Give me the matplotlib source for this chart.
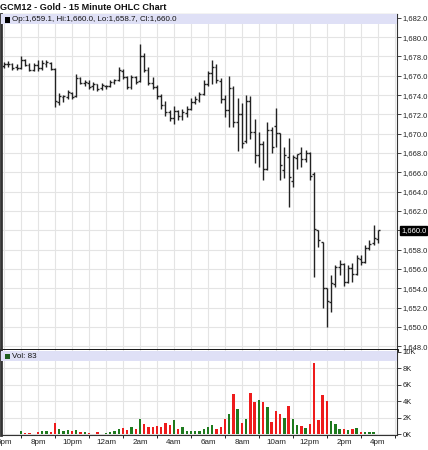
import matplotlib
matplotlib.use('Agg')
import matplotlib.pyplot as plt
import matplotlib.transforms as mtransforms
from matplotlib.patches import Rectangle
from matplotlib.ticker import FuncFormatter
import numpy as np

plt.rcParams['font.family'] = ['Liberation Sans', 'DejaVu Sans']

# 15 minute bars, 6pm .. 4pm
opens = [1677.0, 1677.2, 1677.2, 1676.9, 1676.8, 1677.6, 1677.1, 1676.6, 1677.1, 1676.8,
         1677.2, 1677.3, 1676.7, 1673.3, 1673.8, 1673.8, 1674.2, 1673.9, 1675.8, 1675.3,
         1675.3, 1674.9, 1675.1, 1674.7, 1674.9, 1674.9, 1675.4, 1675.6, 1676.5, 1675.9,
         1674.8, 1675.9, 1675.5, 1678.0, 1676.6, 1675.3, 1674.8, 1673.9, 1673.0, 1672.2,
         1671.6, 1672.4, 1671.8, 1672.1, 1672.6, 1673.3, 1673.5, 1674.1, 1675.2, 1676.3,
         1676.9, 1675.5, 1673.6, 1672.5, 1674.7, 1671.2, 1672.0, 1669.2, 1673.4, 1670.2,
         1667.8, 1668.9, 1666.3, 1670.4, 1670.8, 1670.1, 1666.2, 1667.6, 1665.1, 1667.5,
         1668.0, 1667.4, 1668.0, 1665.8, 1660.0, 1658.8, 1654.0, 1652.6, 1654.4, 1656.2,
         1656.5, 1654.6, 1656.1, 1655.5, 1657.0, 1656.7, 1658.2, 1658.7, 1659.1]
highs = [1677.4, 1677.5, 1677.3, 1677.2, 1678.1, 1677.7, 1677.3, 1677.3, 1677.6, 1677.6,
         1677.6, 1677.4, 1676.8, 1674.2, 1674.0, 1674.5, 1674.3, 1676.2, 1675.9, 1675.6,
         1675.6, 1675.4, 1675.2, 1675.3, 1675.0, 1675.6, 1675.7, 1676.9, 1676.7, 1676.0,
         1676.1, 1676.0, 1679.3, 1678.4, 1676.9, 1675.9, 1675.0, 1674.1, 1673.4, 1672.5,
         1672.9, 1672.5, 1672.6, 1672.9, 1673.7, 1673.9, 1674.3, 1675.6, 1676.5, 1677.6,
         1677.2, 1675.8, 1674.0, 1676.0, 1674.9, 1673.7, 1673.2, 1674.0, 1673.9, 1671.5,
         1670.2, 1669.2, 1671.2, 1670.7, 1672.7, 1670.1, 1668.6, 1669.6, 1667.8, 1667.9,
         1668.6, 1668.3, 1668.1, 1666.0, 1660.0, 1658.8, 1654.0, 1655.4, 1656.4, 1656.9,
         1656.6, 1656.4, 1656.6, 1657.4, 1657.4, 1658.5, 1659.0, 1660.5, 1660.0]
lows = [1676.8, 1676.9, 1676.6, 1676.6, 1676.7, 1677.0, 1676.5, 1676.5, 1676.5, 1676.6,
        1676.9, 1676.6, 1672.8, 1673.0, 1673.3, 1673.6, 1673.6, 1673.8, 1675.1, 1674.9,
        1674.6, 1674.5, 1674.4, 1674.5, 1674.6, 1674.8, 1675.1, 1675.5, 1675.7, 1674.6,
        1674.6, 1675.1, 1675.4, 1676.4, 1675.0, 1674.6, 1673.6, 1672.6, 1671.8, 1671.3,
        1671.0, 1671.4, 1671.4, 1671.7, 1672.5, 1673.1, 1673.3, 1674.0, 1674.9, 1675.1,
        1675.3, 1673.2, 1671.7, 1670.7, 1670.7, 1668.2, 1668.5, 1669.0, 1669.5, 1667.0,
        1666.6, 1665.2, 1666.2, 1668.0, 1668.6, 1665.2, 1665.4, 1662.4, 1664.5, 1666.3,
        1666.6, 1667.1, 1665.2, 1655.2, 1658.3, 1652.0, 1650.0, 1651.5, 1654.1, 1655.4,
        1654.2, 1654.5, 1654.6, 1655.4, 1656.4, 1656.6, 1658.0, 1658.5, 1658.7]
closes = [1677.2, 1677.2, 1676.8, 1676.8, 1677.6, 1677.1, 1676.6, 1677.1, 1676.8, 1677.3,
          1677.4, 1676.7, 1673.4, 1673.9, 1673.9, 1674.3, 1673.8, 1675.8, 1675.3, 1675.4,
          1674.8, 1675.1, 1674.6, 1675.0, 1674.9, 1675.4, 1675.6, 1676.6, 1675.9, 1674.8,
          1675.9, 1675.4, 1678.0, 1676.6, 1675.3, 1674.8, 1673.9, 1673.0, 1672.2, 1671.6,
          1672.4, 1671.8, 1672.2, 1672.6, 1673.3, 1673.6, 1674.1, 1675.2, 1676.3, 1676.9,
          1675.6, 1673.6, 1672.5, 1674.7, 1671.2, 1672.0, 1669.0, 1673.4, 1670.2, 1667.8,
          1668.9, 1666.3, 1670.4, 1668.6, 1670.1, 1666.8, 1667.8, 1665.5, 1667.6, 1667.9,
          1667.4, 1668.0, 1665.6, 1660.1, 1659.0, 1654.0, 1652.7, 1654.5, 1656.2, 1656.5,
          1654.6, 1656.1, 1655.5, 1657.1, 1656.7, 1658.2, 1658.6, 1659.2, 1660.0]
# volume in thousands
volume = [0.10, 0.06, 0.10, 0.10, 0.45, 0.15, 0.15, 0.10, 0.25, 0.35,
          0.40, 0.30, 1.40, 0.60, 0.45, 0.55, 0.40, 0.55, 0.30, 0.25,
          0.20, 0.10, 0.25, 0.10, 0.15, 0.30, 0.40, 0.70, 0.75, 0.55,
          0.90, 0.60, 1.80, 1.20, 0.85, 0.90, 1.00, 0.90, 1.40, 1.15,
          1.70, 0.70, 0.85, 0.45, 0.45, 0.45, 0.40, 0.70, 0.85, 1.10,
          0.70, 0.90, 1.80, 2.40, 4.90, 3.10, 1.40, 1.80, 5.00, 3.90,
          4.20, 3.90, 3.30, 1.50, 2.80, 2.50, 2.00, 3.40, 1.80, 1.10,
          1.00, 0.80, 1.20, 8.60, 1.70, 4.80, 4.00, 1.60, 1.20, 0.60,
          0.70, 0.50, 0.70, 0.80, 0.30, 0.25, 0.30, 0.30, 0.083]
time_labels = ['6pm', '8pm', '10pm', '12am', '2am', '4am', '6am', '8am', '10am', '12pm', '2pm', '4pm']

W, H = 428, 450
fig = plt.figure(figsize=(W / 100, H / 100), dpi=100)

def px_axes(x0, y0, x1, y1):
    return fig.add_axes([x0 / W, 1 - y1 / H, (x1 - x0) / W, (y1 - y0) / H])

ax = px_axes(1, 14, 397, 350)
axv = px_axes(1, 350, 397, 435)

n = len(closes)
idx = np.arange(n)
o, h, l, c = map(np.array, (opens, highs, lows, closes))

bar_col = '#222222'
ax.vlines(idx, l, h, color=bar_col, lw=1.0)
ax.hlines(o, idx - 0.45, idx, color=bar_col, lw=1.0)
ax.hlines(c, idx, idx + 0.45, color=bar_col, lw=1.0)

up = c >= o
vcols = np.where(up, '#1e7a1e', '#ee1c1c')
axv.bar(idx, volume, width=0.55, color=vcols, linewidth=0)

xlo, xhi = -0.7, 92.5
grid_col = '#e4e4e4'
for a in (ax, axv):
    a.set_xlim(xlo, xhi)
    a.set_xticks(np.arange(0, 93, 4), minor=False)
    a.grid(True, color=grid_col, lw=0.8)
    a.set_axisbelow(True)
    a.yaxis.tick_right()
    a.tick_params(axis='y', direction='out', length=3, width=0.6, pad=1,
                  labelsize=5.4, colors='#222222')
    for s in ('left', 'bottom', 'right', 'top'):
        a.spines[s].set_color('#333333')
        a.spines[s].set_linewidth(0.8)
    a.spines['left'].set_linewidth(2.0)

ax.set_ylim(1647.6, 1682.4)
ax.set_yticks(np.arange(1648, 1683, 2))
ax.yaxis.set_major_formatter(FuncFormatter(lambda v, p: f'{v:,.1f}'))
ax.tick_params(axis='x', length=0, labelbottom=False)
ax.spines['bottom'].set_linewidth(2.0)
ax.spines['bottom'].set_color('black')

axv.set_ylim(-0.08, 10.2)
axv.set_yticks(np.arange(0, 11, 2))
axv.yaxis.set_major_formatter(FuncFormatter(lambda v, p: f'{v:.0f}K'))
axv.spines['top'].set_visible(False)
axv.set_xticks(np.arange(0, 89, 8))
axv.set_xticks(np.arange(0, 93, 4), minor=True)
axv.grid(True, which='minor', axis='x', color=grid_col, lw=0.8)
axv.set_xticklabels(time_labels)
axv.tick_params(axis='x', length=0, pad=3, labelsize=5.8, colors='#222222')

# legend strips
strip = '#dfe0f6'
ax.add_patch(Rectangle((0, 1 - 10 / 336), 1, 10 / 336, transform=ax.transAxes,
                       facecolor=strip, edgecolor='none', zorder=3))
ax.add_patch(Rectangle((4 / 396, 1 - 8.5 / 336), 4.5 / 396, 5.5 / 336, transform=ax.transAxes,
                       facecolor='black', edgecolor='none', zorder=4))
ax.text(11 / 396, 1 - 5.2 / 336,
        f'Op:{opens[-1]:,.1f}, Hi:{highs[-1]:,.1f}, Lo:{lows[-1]:,.1f}, Cl:{closes[-1]:,.1f}',
        transform=ax.transAxes, fontsize=5.8, va='center', ha='left', color='#111111', zorder=5)

axv.add_patch(Rectangle((0, 1 - 11 / 85), 1, 10 / 85, transform=axv.transAxes,
                        facecolor=strip, edgecolor='none', zorder=3))
axv.add_patch(Rectangle((4 / 396, 1 - 9 / 85), 4.5 / 396, 5.5 / 85, transform=axv.transAxes,
                        facecolor='#1e5e1e', edgecolor='none', zorder=4))
axv.text(11 / 396, 1 - 6 / 85, f'Vol: {int(round(volume[-1] * 1000))}',
         transform=axv.transAxes, fontsize=5.8, va='center', ha='left', color='#111111', zorder=5)

# last price marker
trans = mtransforms.blended_transform_factory(ax.transAxes, ax.transData)
ax.text(1.01, closes[-1], f'{closes[-1]:,.1f}', transform=trans, fontsize=5.4, color='white',
        va='center', ha='left', zorder=6,
        bbox=dict(boxstyle='square,pad=0.15', facecolor='black', edgecolor='black'))

fig.text(0.0, 1 - 7 / H, 'GCM12 - Gold - 15 Minute OHLC Chart', fontsize=6.6,
         fontweight='bold', va='center', ha='left', color='#111111')

fig.savefig('out.png', dpi=100)
